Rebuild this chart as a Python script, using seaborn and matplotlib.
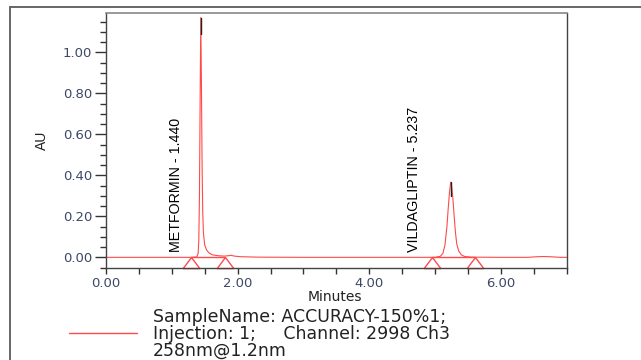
import numpy as np
import pandas as pd
import matplotlib
matplotlib.use("Agg")
import matplotlib.pyplot as plt
from matplotlib.lines import Line2D
from matplotlib.ticker import MultipleLocator, FixedLocator
import seaborn as sns

# ---------------- data ----------------
times = [0.00, 0.50, 1.00, 1.30, 1.38, 1.40, 1.41, 1.42, 1.43, 1.44, 1.45, 1.46,
         1.47, 1.48, 1.50, 1.53, 1.57, 1.62, 1.70, 1.80, 1.86, 1.90, 1.95, 2.05,
         2.30, 3.00, 4.00, 5.00, 5.08, 5.12, 5.15, 5.18, 5.20, 5.22, 5.237, 5.25,
         5.27, 5.29, 5.31, 5.33, 5.36, 5.40, 5.45, 5.55, 6.00, 6.40, 6.55, 6.65,
         6.75, 6.90, 7.00]
absorb = [0.000, 0.000, 0.000, 0.000, 0.002, 0.020, 0.080, 0.300, 0.750, 1.170, 0.850, 0.450,
          0.220, 0.120, 0.060, 0.035, 0.020, 0.012, 0.008, 0.006, 0.008, 0.010, 0.006, 0.003,
          0.001, 0.000, 0.000, 0.000, 0.005, 0.020, 0.060, 0.150, 0.240, 0.320, 0.367, 0.350,
          0.290, 0.200, 0.120, 0.065, 0.030, 0.012, 0.004, 0.001, 0.000, 0.000, 0.003, 0.004,
          0.003, 0.000, 0.000]

peak_names = ["METFORMIN - 1.440", "VILDAGLIPTIN - 5.237"]
peak_times = [1.440, 5.237]
peak_tops = [1.170, 0.367]
apex_marker_low = [1.090, 0.300]
label_x = [1.064, 4.68]
label_y = [0.026, 0.026]

peak_starts = [1.29, 4.96]
peak_ends = [1.81, 5.61]

x_major = [0, 2, 4, 6]
x_labels = ["0.00", "2.00", "4.00", "6.00"]
y_major = [0.0, 0.2, 0.4, 0.6, 0.8, 1.0]
y_labels = ["0.00", "0.20", "0.40", "0.60", "0.80", "1.00"]

legend_text = ("SampleName: ACCURACY-150%1;\n"
               "Injection: 1;     Channel: 2998 Ch3\n"
               "258nm@1.2nm")

# ---------------- figure ----------------
sns.set_theme(style="white")
plt.rcParams["font.family"] = ["DejaVu Sans"]

W, H = 641, 360
fig = plt.figure(figsize=(W / 100, H / 100), dpi=100)
fig.patch.set_facecolor("white")

def fx(px):
    return px / W

def fy(py):
    return 1 - py / H

ax = fig.add_axes([fx(106), fy(268), fx(566.7) - fx(106), fy(13) - fy(268)])
ax.set_facecolor("white")

df = pd.DataFrame({"Minutes": times, "AU": absorb})
red = "#ff4a4a"
sns.lineplot(data=df, x="Minutes", y="AU", ax=ax, color=red, lw=0.8,
             estimator=None, sort=False)

# apex markers
for t, lo, hi in zip(peak_times, apex_marker_low, peak_tops):
    ax.plot([t, t], [lo, hi], color="#222222", lw=1.0)

# integration baselines and triangles
tri = [(0, 0), (-1.5, -2), (1.5, -2), (0, 0)]
for s, e in zip(peak_starts, peak_ends):
    ax.plot([s, e], [0, 0], color=red, lw=1.0)
    ax.plot([s, e], [0, 0], linestyle="none", marker=tri, markersize=16,
            markerfacecolor="none", markeredgecolor=red, markeredgewidth=1.0,
            clip_on=False)

narrow = ["Liberation Sans", "DejaVu Sans"]
for name, x, y in zip(peak_names, label_x, label_y):
    ax.text(x, y, name, rotation=90, ha="center", va="bottom",
            fontsize=10.3, family=narrow, color="black")

ax.set_xlim(0, 7.0)
ax.set_ylim(-0.052, 1.192)

ax.xaxis.set_major_locator(FixedLocator(x_major))
ax.set_xticklabels(x_labels)
ax.xaxis.set_minor_locator(MultipleLocator(0.5))
ax.yaxis.set_major_locator(FixedLocator(y_major))
ax.set_yticklabels(y_labels)
ax.yaxis.set_minor_locator(MultipleLocator(0.05))

lab_col = "#3d4866"
ax.tick_params(axis="x", which="both", direction="out", length=4.3, width=1,
               color="#333333", bottom=True, labelsize=9.5, labelcolor=lab_col, pad=2)
ax.tick_params(axis="y", which="major", direction="out", length=8, width=1,
               color="#333333", left=True, labelsize=9.5, labelcolor=lab_col, pad=2)
ax.tick_params(axis="y", which="minor", direction="out", length=4.3, width=1,
               color="#333333", left=True)

for side in ["left", "bottom", "right"]:
    ax.spines[side].set_color("#444444")
    ax.spines[side].set_linewidth(1.0)
ax.spines["top"].set_color("#888888")
ax.spines["top"].set_linewidth(1.2)

ax.set_xlabel("")
ax.set_ylabel("")
fig.text(fx(41.7), fy(140), "AU", rotation=90, ha="center", va="center",
         fontsize=10, family=narrow, color="#222222")
fig.text(fx(335), fy(297), "Minutes", ha="center", va="center",
         fontsize=10, color="#222222")

# legend block
fig.add_artist(Line2D([fx(69), fx(137)], [fy(333), fy(333)], color=red, lw=1.0))
fig.text(fx(153), fy(334), legend_text, ha="left", va="center", fontsize=12.5,
         linespacing=0.9, color="#222222")

# outer frame
fig.add_artist(Line2D([fx(9.5), fx(9.5)], [fy(7), fy(362)], color="#666666", lw=1.4))
fig.add_artist(Line2D([fx(9.5), fx(643)], [fy(7), fy(7)], color="#666666", lw=1.4))

fig.savefig("out.png", dpi=100)
